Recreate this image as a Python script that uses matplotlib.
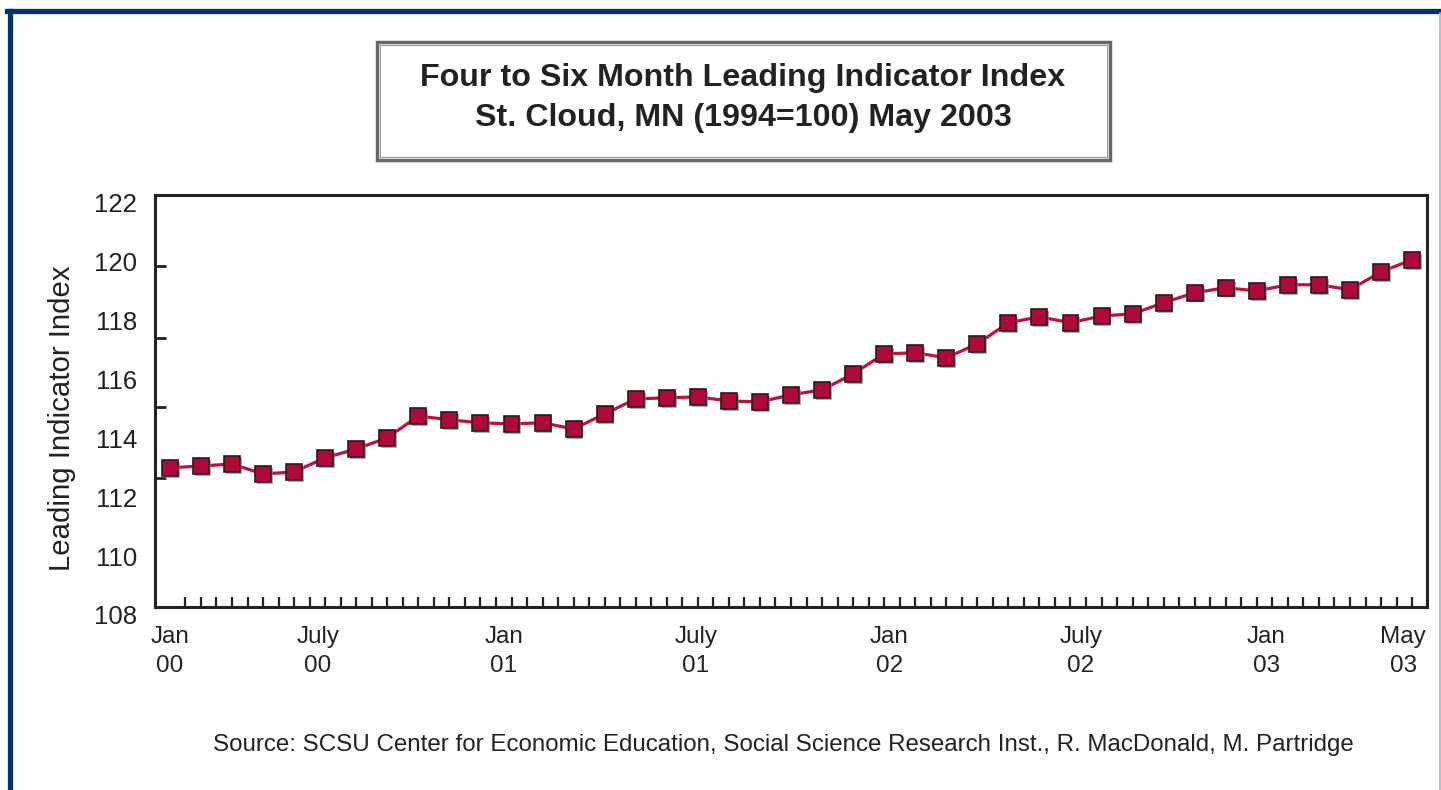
import numpy as np
import matplotlib.pyplot as plt
import matplotlib.transforms as mtransforms
import matplotlib.patheffects as pe
from matplotlib.patches import Rectangle
from matplotlib.lines import Line2D

plt.rcParams['font.family'] = ['Liberation Sans', 'DejaVu Sans']

# monthly index, Jan 2000 .. May 2003
index_values = [112.73, 112.79, 112.86, 112.52, 112.59, 113.07, 113.37, 113.75,
                114.49, 114.36, 114.26, 114.22, 114.26, 114.05, 114.56, 115.07,
                115.11, 115.14, 115.00, 114.97, 115.21, 115.38, 115.92, 116.60,
                116.64, 116.47, 116.94, 117.66, 117.86, 117.66, 117.89, 117.96,
                118.34, 118.68, 118.85, 118.74, 118.95, 118.95, 118.78, 119.39,
                119.80]
months = np.arange(len(index_values))

x_labels = ['Jan\n00', 'July\n00', 'Jan\n01', 'July\n01', 'Jan\n02', 'July\n02', 'Jan\n03', 'May\n03']
x_label_pos = [0.0, 4.77, 10.76, 16.94, 23.16, 29.34, 35.3, 39.71]
y_labels = [108, 110, 112, 114, 116, 118, 120, 122]
y_mark_pos = [110.0, 112.39, 114.8, 117.15, 119.59]

W, H = 1441, 790
fig = plt.figure(figsize=(W / 100, H / 100), dpi=100)
ax = fig.add_axes([155 / W, 1 - 607 / H, (1427 - 155) / W, (607 - 195) / H])

line_col = '#c0103f'
ax.plot(months, index_values, color=line_col, lw=2.3, zorder=3)
ax.plot(months, index_values, ls='none', marker='s', ms=11.5, mfc='#b00838',
        mec='#2b1a20', mew=1.2, zorder=4,
        path_effects=[pe.SimplePatchShadow(offset=(1.3, -1.3), shadow_rgbFace='#888888', alpha=0.7),
                      pe.Normal()])

ax.set_xlim(-0.48, 40.48)
ax.set_ylim(108, 122)

for s in ax.spines.values():
    s.set_linewidth(2.2)
    s.set_color('#222222')

# y axis: labels and tick marks
ax.set_yticks(y_labels)
ax.set_yticklabels([str(v) for v in y_labels], fontsize=18.5, color='#222222')
ax.tick_params(axis='y', which='major', length=0, pad=13)
off = mtransforms.ScaledTranslation(0, -8 / 100, fig.dpi_scale_trans)
for lab in ax.get_yticklabels():
    lab.set_transform(lab.get_transform() + off)
ax.set_yticks(y_mark_pos, minor=True)
ax.tick_params(axis='y', which='minor', direction='in', length=8, width=2, color='#222222')

# x axis: half-month tick marks, labels
ax.set_xticks(np.arange(0, 40.01, 0.5), minor=True)
ax.tick_params(axis='x', which='minor', direction='in', length=7, width=1.6, color='#222222')
ax.set_xticks(x_label_pos)
ax.set_xticklabels(x_labels, fontsize=17.5, color='#222222', linespacing=1.4)
ax.tick_params(axis='x', which='major', length=0, pad=14)

ax.set_ylabel('Leading Indicator Index', fontsize=21.2, color='#222222', va='center')
ax.yaxis.set_label_coords(-0.0731, 0.459)

# title box
fig.patches.append(Rectangle((377 / W, 1 - 160 / H), (1110 - 377) / W, (160 - 42) / H,
                             transform=fig.transFigure, fill=False, ec='#666666', lw=2.5))
fig.patches.append(Rectangle((380 / W, 1 - 157 / H), (1107 - 380) / W, (157 - 45) / H,
                             transform=fig.transFigure, fill=False, ec='#999999', lw=0.8))
fig.text(743 / W, 1 - 78 / H, 'Four to Six Month Leading Indicator Index',
         ha='center', va='center', fontsize=23.2, fontweight='bold', color='#222222')
fig.text(743 / W, 1 - 118 / H, 'St. Cloud, MN (1994=100) May 2003',
         ha='center', va='center', fontsize=23.2, fontweight='bold', color='#222222')

fig.text(783 / W, 1 - 745 / H,
         'Source: SCSU Center for Economic Education, Social Science Research Inst., R. MacDonald, M. Partridge',
         ha='center', va='center', fontsize=17.4, color='#222222')

# page frame
fig.lines.append(Line2D([9.5 / W, 9.5 / W], [0, 1 - 10.5 / H], transform=fig.transFigure,
                        color='#003366', lw=3.8))
fig.lines.append(Line2D([7 / W, 1], [1 - 10.5 / H, 1 - 10.5 / H], transform=fig.transFigure,
                        color='#003366', lw=3.8))
fig.lines.append(Line2D([1439.5 / W, 1439.5 / W], [0, 1 - 13 / H], transform=fig.transFigure,
                        color='#9fb4cc', lw=1.2))

fig.savefig('out.png', dpi=100)
